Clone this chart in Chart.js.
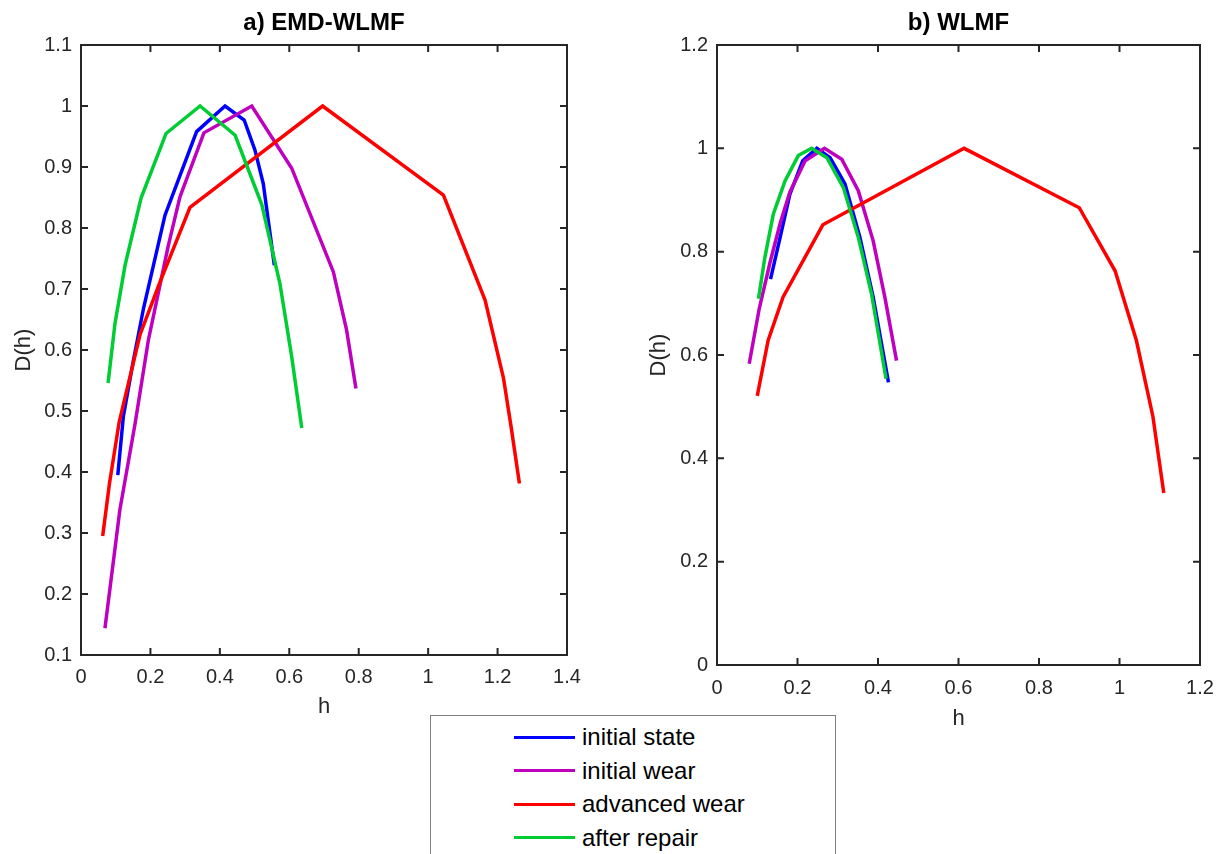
<!DOCTYPE html>
<html>
<head>
<meta charset="utf-8">
<script src="https://cdn.jsdelivr.net/npm/chart.js@4.4.1/dist/chart.umd.min.js"></script>
<style>
  html, body { margin: 0; padding: 0; background: #fff; overflow: hidden; width: 1219px; height: 854px; }
  #chartA { position: absolute; left: 0; top: 0; }
  #chartB { position: absolute; left: 640px; top: 0; }
  #legend {
    position: absolute; left: 430px; top: 715px; width: 404px; height: 160px;
    border: 1px solid #7f7f7f; background: #fff;
    font-family: "Liberation Sans", Arial, sans-serif; font-size: 24px; color: #000;
  }
  .row { position: absolute; left: 0; height: 32px; display: flex; align-items: center; }
  .swatch { display: inline-block; width: 61px; height: 3px; margin-left: 83px; margin-right: 7px; }
</style>
</head>
<body>
<canvas id="chartA" width="648" height="730"></canvas>
<canvas id="chartB" width="637" height="740"></canvas>
<div id="legend"></div>
<script>
// series names and colours
var seriesNames = ["initial state", "initial wear", "advanced wear", "after repair"];
var seriesColors = ["#0000ff", "#bf00bf", "#ff0000", "#00cc33"];

// a) EMD-WLMF
var aStateH = [0.106, 0.122, 0.150, 0.180, 0.242, 0.333, 0.415, 0.470, 0.501, 0.525, 0.557];
var aStateD = [0.395, 0.491, 0.580, 0.668, 0.821, 0.958, 1.000, 0.977, 0.928, 0.873, 0.739];
var aWearH = [0.069, 0.112, 0.156, 0.194, 0.251, 0.285, 0.354, 0.492, 0.607, 0.727, 0.765, 0.792];
var aWearD = [0.144, 0.338, 0.480, 0.616, 0.770, 0.851, 0.956, 1.000, 0.898, 0.728, 0.633, 0.537];
var aAdvH = [0.0625, 0.082, 0.110, 0.170, 0.228, 0.314, 0.696, 1.044, 1.164, 1.217, 1.239, 1.263];
var aAdvD = [0.295, 0.381, 0.482, 0.625, 0.712, 0.834, 1.000, 0.854, 0.682, 0.554, 0.474, 0.381];
var aRepH = [0.078, 0.098, 0.127, 0.173, 0.245, 0.343, 0.444, 0.521, 0.573, 0.607, 0.636];
var aRepD = [0.546, 0.644, 0.739, 0.849, 0.955, 1.000, 0.952, 0.838, 0.709, 0.589, 0.472];

// b) WLMF
var bStateH = [0.133, 0.157, 0.181, 0.213, 0.248, 0.281, 0.318, 0.355, 0.388, 0.426];
var bStateD = [0.747, 0.828, 0.911, 0.976, 1.000, 0.982, 0.931, 0.828, 0.712, 0.547];
var bWearH = [0.080, 0.105, 0.132, 0.157, 0.181, 0.219, 0.267, 0.310, 0.351, 0.388, 0.417, 0.446];
var bWearD = [0.583, 0.690, 0.780, 0.855, 0.915, 0.976, 1.000, 0.979, 0.918, 0.821, 0.712, 0.589];
var bAdvH = [0.100, 0.127, 0.164, 0.263, 0.614, 0.900, 0.989, 1.042, 1.083, 1.110];
var bAdvD = [0.521, 0.628, 0.712, 0.852, 1.000, 0.885, 0.763, 0.628, 0.481, 0.333];
var bRepH = [0.103, 0.119, 0.140, 0.169, 0.202, 0.235, 0.273, 0.314, 0.351, 0.384, 0.420];
var bRepD = [0.709, 0.789, 0.873, 0.937, 0.986, 1.000, 0.982, 0.924, 0.828, 0.718, 0.554];

var fontFamily = '"Liberation Sans", Arial, sans-serif';
var axisColor = '#262626';

function pts(hs, ds) {
  return hs.map(function (h, i) { return { x: h, y: ds[i] }; });
}

function makeSets(list) {
  // last series drawn on top, like the original plot
  return list.map(function (s, i) {
    return {
      label: seriesNames[i],
      data: pts(s[0], s[1]),
      borderColor: seriesColors[i],
      borderWidth: 3.5,
      pointRadius: 0,
      tension: 0,
      fill: false,
      order: list.length - i
    };
  });
}

// tick text like "1", "0.2" (no trailing zero)
function tickText(v) {
  return String(Math.round(v * 10) / 10);
}

// matlab style box with inward ticks on all four sides
var boxTicks = {
  id: 'boxTicks',
  afterDatasetsDraw: function (chart) {
    var ctx = chart.ctx, a = chart.chartArea, x = chart.scales.x, y = chart.scales.y;
    ctx.save();
    ctx.strokeStyle = axisColor;
    ctx.lineWidth = 2;
    ctx.strokeRect(a.left, a.top, a.right - a.left, a.bottom - a.top);
    ctx.beginPath();
    x.ticks.forEach(function (t) {
      var px = x.getPixelForValue(t.value);
      ctx.moveTo(px, a.bottom); ctx.lineTo(px, a.bottom - 7);
      ctx.moveTo(px, a.top); ctx.lineTo(px, a.top + 7);
    });
    y.ticks.forEach(function (t) {
      var py = y.getPixelForValue(t.value);
      ctx.moveTo(a.left, py); ctx.lineTo(a.left + 7, py);
      ctx.moveTo(a.right, py); ctx.lineTo(a.right - 7, py);
    });
    ctx.stroke();
    ctx.restore();
  }
};

function makeChart(id, title, sets, xr, yr, sideW, xPad, xTitlePad, yTitlePad, bottomH) {
  var tickFont = { family: fontFamily, size: 20 };
  var titleFont = { family: fontFamily, size: 22 };
  return new Chart(document.getElementById(id), {
    type: 'line',
    data: { datasets: sets },
    options: {
      responsive: false,
      animation: false,
      layout: { padding: 0 },
      plugins: {
        legend: { display: false },
        tooltip: { enabled: false },
        title: {
          display: true,
          text: title,
          color: '#000',
          font: { family: fontFamily, size: 24, weight: 'bold' },
          padding: { top: 8.6, bottom: 7.6 }
        }
      },
      scales: {
        x: {
          type: 'linear',
          min: xr[0], max: xr[1],
          grid: { display: false, drawTicks: false },
          border: { display: false },
          ticks: { stepSize: xr[2], padding: xPad, color: axisColor, font: tickFont, maxRotation: 0, autoSkip: false, callback: tickText },
          title: { display: true, text: 'h', color: axisColor, font: titleFont, padding: { top: 0, bottom: xTitlePad } },
          afterFit: function (s) { s.height = bottomH; }
        },
        y: {
          type: 'linear',
          min: yr[0], max: yr[1],
          grid: { display: false, drawTicks: false },
          border: { display: false },
          ticks: { stepSize: yr[2], padding: 9, color: axisColor, font: tickFont, autoSkip: false, callback: tickText },
          title: { display: true, text: 'D(h)', color: axisColor, font: titleFont, padding: { top: yTitlePad, bottom: 0 } },
          afterFit: function (s) { s.width = sideW; }
        },
        y2: {
          type: 'linear',
          position: 'right',
          min: yr[0], max: yr[1],
          grid: { display: false, drawTicks: false },
          border: { display: false },
          ticks: { display: false },
          afterFit: function (s) { s.width = sideW; }
        }
      }
    },
    plugins: [boxTicks]
  });
}

makeChart('chartA', 'a) EMD-WLMF',
  makeSets([[aStateH, aStateD], [aWearH, aWearD], [aAdvH, aAdvD], [aRepH, aRepD]]),
  [0, 1.4, 0.2], [0.1, 1.1, 0.1], 81, 10, 10, 10.8, 75);

makeChart('chartB', 'b) WLMF',
  makeSets([[bStateH, bStateD], [bWearH, bWearD], [bAdvH, bAdvD], [bRepH, bRepD]]),
  [0, 1.2, 0.2], [0, 1.2, 0.2], 77, 11, 8, 6, 75);

// legend box below the plots
var legend = document.getElementById('legend');
seriesNames.forEach(function (name, i) {
  var row = document.createElement('div');
  row.className = 'row';
  row.style.top = (5 + i * 33.5) + 'px';
  var sw = document.createElement('span');
  sw.className = 'swatch';
  sw.style.background = seriesColors[i];
  var tx = document.createElement('span');
  tx.textContent = name;
  row.appendChild(sw);
  row.appendChild(tx);
  legend.appendChild(row);
});
</script>
</body>
</html>
